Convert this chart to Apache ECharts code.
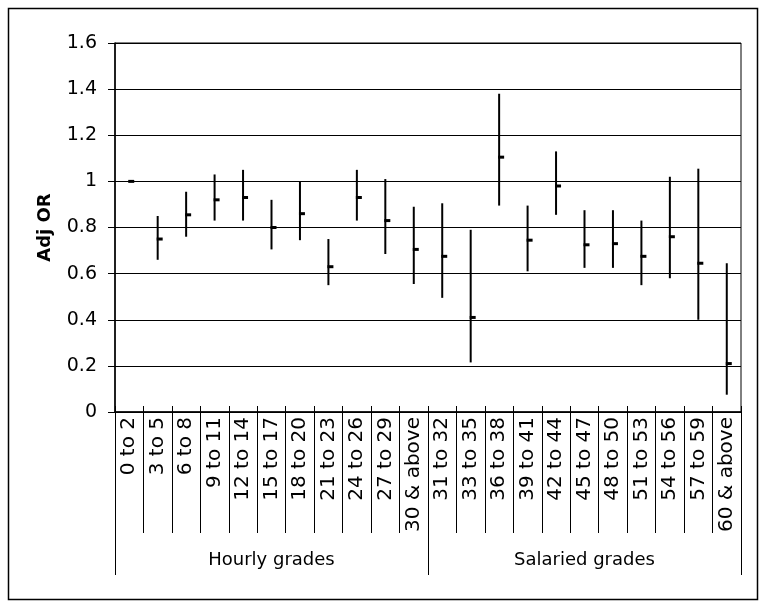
<!DOCTYPE html>
<html>
<head>
<meta charset="utf-8">
<script src="https://cdn.jsdelivr.net/npm/echarts@6/dist/echarts.min.js"></script>
<style>
  html, body { margin: 0; padding: 0; background: #fff; }
  #chart { width: 767px; height: 608px; }
</style>
</head>
<body>
<div id="chart"></div>
<script>
// grade bands (x axis) and the two groups beneath them
const categories = ['0 to 2', '3 to 5', '6 to 8', '9 to 11', '12 to 14', '15 to 17', '18 to 20',
    '21 to 23', '24 to 26', '27 to 29', '30 & above', '31 to 32', '33 to 35', '36 to 38',
    '39 to 41', '42 to 44', '45 to 47', '48 to 50', '51 to 53', '54 to 56', '57 to 59', '60 & above'];
const groups = ['Hourly grades', 'Salaried grades'];

// adjusted odds ratio and its confidence interval
const adjOR = [1.00, 0.75, 0.855, 0.92, 0.93, 0.80, 0.86, 0.63, 0.93, 0.83, 0.705,
    0.675, 0.41, 1.105, 0.745, 0.98, 0.725, 0.73, 0.675, 0.76, 0.645, 0.21];
const ciLow = [1.00, 0.66, 0.76, 0.83, 0.83, 0.705, 0.745, 0.55, 0.83, 0.685, 0.555,
    0.495, 0.215, 0.895, 0.61, 0.855, 0.625, 0.625, 0.55, 0.58, 0.40, 0.075];
const ciHigh = [1.00, 0.85, 0.955, 1.03, 1.05, 0.92, 1.00, 0.75, 1.05, 1.01, 0.89,
    0.905, 0.79, 1.38, 0.895, 1.13, 0.875, 0.875, 0.83, 1.02, 1.055, 0.645];

const yTicks = [0, 0.2, 0.4, 0.6, 0.8, 1, 1.2, 1.4, 1.6];

const chart = echarts.init(document.getElementById('chart'));

const font = 'DejaVu Sans';

const option = {
    animation: false,
    backgroundColor: '#fff',
    graphic: [{
        type: 'rect',
        shape: { x: 8.5, y: 8.5, width: 749, height: 591 },
        style: { fill: 'none', stroke: '#000', lineWidth: 1.5 },
        silent: true
    }],
    grid: {
        left: 115, right: 26, top: 43, bottom: 196,
        outerBoundsMode: 'none',
        containLabel: false,
        show: true, borderColor: '#000', borderWidth: 1
    },
    xAxis: [
        {
            type: 'category',
            position: 'bottom',
            data: categories,
            boundaryGap: true,
            axisLine: { lineStyle: { color: '#000', width: 1.5 } },
            axisTick: { show: true, interval: 0, length: 121, lineStyle: { color: '#000', width: 1 } },
            axisLabel: {
                interval: 0, rotate: 90, margin: 5,
                fontFamily: font, fontSize: 20, color: '#000'
            },
            splitLine: { show: false }
        },
        {
            type: 'category',
            position: 'bottom',
            data: groups,
            boundaryGap: true,
            axisLine: { show: false },
            axisTick: { show: true, interval: 0, length: 163, lineStyle: { color: '#000', width: 1 } },
            axisLabel: {
                interval: 0, margin: 139,
                fontFamily: font, fontSize: 18, color: '#000'
            },
            splitLine: { show: false }
        },
        {
            type: 'category',
            position: 'bottom',
            data: categories,
            boundaryGap: true,
            axisLine: { show: false },
            axisTick: { show: true, inside: true, interval: 0, length: 6, lineStyle: { color: '#000', width: 1 } },
            axisLabel: { show: false },
            splitLine: { show: false }
        }
    ],
    yAxis: {
        type: 'value',
        min: yTicks[0],
        max: yTicks[yTicks.length - 1],
        interval: 0.2,
        name: 'Adj OR',
        nameLocation: 'middle',
        nameGap: 61,
        nameTextStyle: { fontFamily: font, fontSize: 18, fontWeight: 'bold', color: '#000' },
        axisLine: { show: true, lineStyle: { color: '#000', width: 1.5 } },
        axisTick: { show: true, length: 7, lineStyle: { color: '#000', width: 1 } },
        axisLabel: {
            margin: 18, fontFamily: font, fontSize: 19, color: '#000',
            formatter: v => String(Math.round(v * 10) / 10)
        },
        splitLine: { show: true, lineStyle: { color: '#000', width: 1.2 } }
    },
    series: [{
        type: 'custom',
        xAxisIndex: 0,
        data: categories.map((c, i) => [i, ciLow[i], ciHigh[i], adjOR[i]]),
        encode: { x: 0, y: [1, 2, 3] },
        renderItem: function (params, api) {
            const i = api.value(0);
            const lo = api.coord([i, api.value(1)]);
            const hi = api.coord([i, api.value(2)]);
            const mid = api.coord([i, api.value(3)]);
            return {
                type: 'group',
                children: [
                    {
                        type: 'line',
                        shape: { x1: lo[0], y1: lo[1], x2: hi[0], y2: hi[1] },
                        style: { stroke: '#000', lineWidth: 2 }
                    },
                    {
                        type: 'rect',
                        shape: { x: mid[0] - 1, y: mid[1] - 1.5, width: 6, height: 3 },
                        style: { fill: '#000' }
                    }
                ]
            };
        }
    }]
};

chart.setOption(option);
</script>
</body>
</html>
